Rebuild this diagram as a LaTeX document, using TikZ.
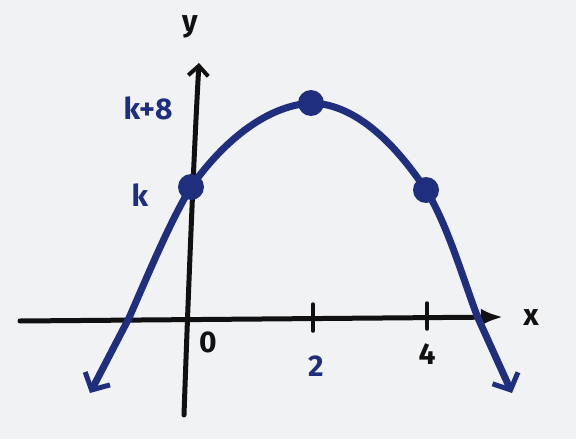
\documentclass[tikz,border=0pt]{standalone}
\usepackage{fontspec}
\setmainfont{Fira Sans}
\usetikzlibrary{arrows.meta}
\definecolor{ink}{HTML}{1F2F7E}
\definecolor{paper}{HTML}{F1F2F4}
\definecolor{pen}{HTML}{111111}
\tikzset{
  axis/.style={pen, line width=5pt, line cap=round},
  curve/.style={ink, line width=7pt, line cap=round, line join=round},
  dot/.style={circle, fill=ink, inner sep=0pt, minimum size=26pt},
  tick/.style={pen, line width=3.5pt, line cap=round},
  blab/.style={ink, font=\bfseries\fontsize{30}{30}\selectfont},
  klab/.style={pen, font=\bfseries\fontsize{30}{30}\selectfont},
}
\begin{document}
\begin{tikzpicture}[x=1pt,y=-1pt]
\fill[paper] (0,0) rectangle (576,439);
\useasboundingbox (0,0) rectangle (576,439);
% axes
\coordinate (xl) at (20,321);
\coordinate (xr) at (503,317);
\coordinate (yb) at (184,415);
\coordinate (yt) at (199,63);
\draw[axis, -{Latex[length=22pt,width=17pt]}] (xl) -- (xr);
\draw[axis, -{Straight Barb[length=10pt,width=20pt,line width=4pt]}] (yb) .. controls (188,300) and (194,150) .. (yt);
% ticks
\coordinate (t2a) at (313,304); \coordinate (t2b) at (313,331);
\coordinate (t4a) at (427,303); \coordinate (t4b) at (427,329);
\draw[tick] (t2a) -- (t2b);
\draw[tick] (t4a) -- (t4b);
% curve
\coordinate (la) at (90,393);
\coordinate (lc) at (129,318);
\coordinate (p0) at (191,187);
\coordinate (pv) at (311,103);
\coordinate (p4) at (426,190);
\coordinate (rc) at (478,318);
\coordinate (ra) at (512,393);
\draw[curve, {Straight Barb[length=13pt,width=28pt,line width=5pt]}-{Straight Barb[length=13pt,width=28pt,line width=5pt]}]
  (la) -- (lc) .. controls (150,270) and (170,222) .. (p0)
  .. controls (222,143) and (265,106) .. (pv)
  .. controls (358,104) and (398,148) .. (p4)
  .. controls (448,225) and (465,285) .. (rc) -- (ra);
\node[dot] (d0) at (p0) {};
\node[dot] (dv) at (pv) {};
\node[dot] (d4) at (p4) {};
% labels
\node[klab] (ly) at (190,27) {y};
\node[klab] (lx) at (531,318) {x};
\node[klab] (l0) at (208,342) {0};
\node[blab] (l2) at (316,366) {2};
\node[klab] (l4) at (427,354) {4};
\node[blab] (lk8) at (148,108) {k+8};
\node[blab] (lk) at (140,195) {k};
\end{tikzpicture}
\end{document}
